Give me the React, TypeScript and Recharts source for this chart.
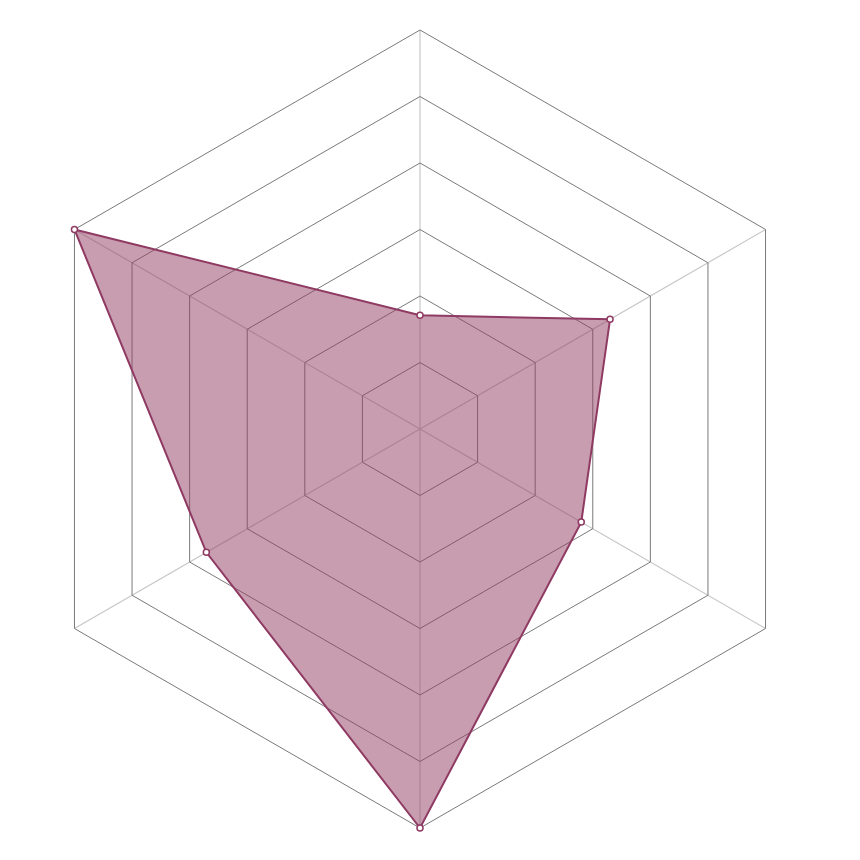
import React from "react";
import { RadarChart, Radar, PolarGrid, PolarAngleAxis, PolarRadiusAxis } from "recharts";

const categories = ["A", "B", "C", "D", "E", "F"];
const values = [1.71, 3.3, 2.8, 6, 3.71, 6];
const radiusTicks = [0, 1, 2, 3, 4, 5, 6];

const data = categories.map((c, i) => ({ name: c, value: values[i] }));

export default function App() {
  return (
    <div style={{ width: 844, height: 844 }}>
      <RadarChart
        width={844}
        height={844}
        data={data}
        cx={412}
        cy={421}
        outerRadius={399}
        margin={{ top: 0, right: 0, bottom: 0, left: 0 }}
      >
        <PolarGrid gridType="polygon" polarRadius={[]} stroke="#c8c8c8" strokeWidth={1.2} />
        <PolarGrid gridType="polygon" radialLines={false} stroke="#7a7a7a" strokeWidth={1} />
        <PolarAngleAxis dataKey="name" tick={false} axisLine={false} tickLine={false} />
        <PolarRadiusAxis
          domain={[0, 6]}
          ticks={radiusTicks as any}
          tickCount={7}
          tick={false}
          axisLine={false}
          tickLine={false}
        />
        <Radar
          dataKey="value"
          stroke="#8f3a62"
          strokeWidth={2}
          fill="#923b62"
          fillOpacity={0.5}
          dot={{ r: 3, fill: "#ffffff", stroke: "#8f3a62", strokeWidth: 1.5, fillOpacity: 1 }}
          isAnimationActive={false}
        />
      </RadarChart>
    </div>
  );
}
